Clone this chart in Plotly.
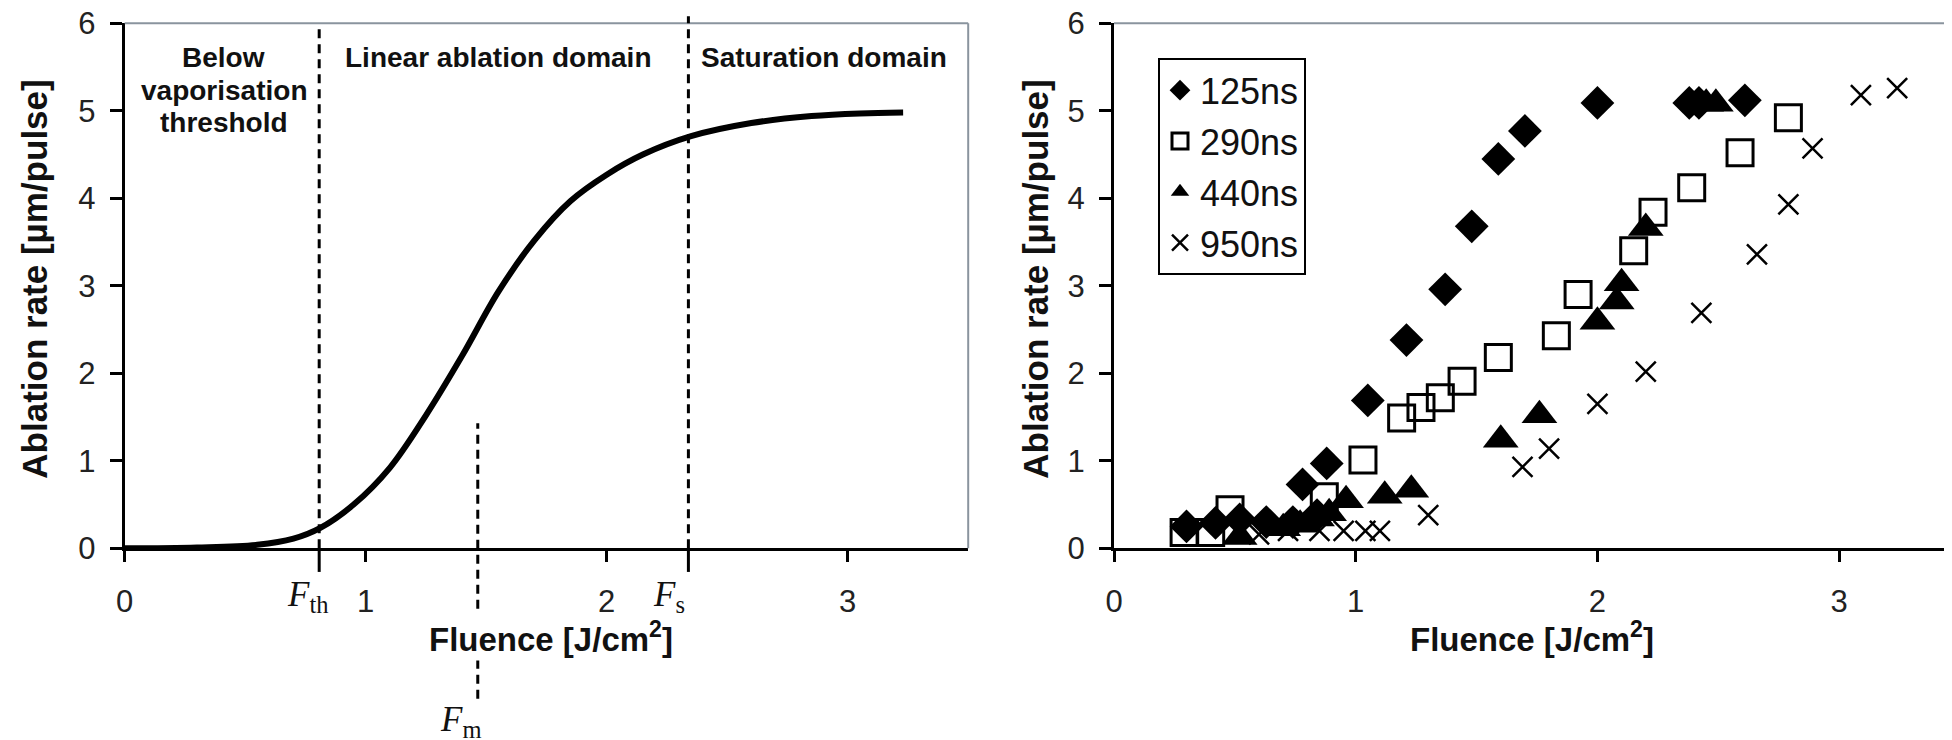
import plotly.graph_objects as go

W, H = 1952, 740
OFF = 8  # page offset of the plot div (body margin)

# ---------------- Left panel: model ablation curve ----------------
curve_x = [0.0, 0.30, 0.55, 0.70, 0.81, 0.95, 1.10, 1.25, 1.40, 1.55, 1.70, 1.85,
           2.00, 2.15, 2.35, 2.60, 2.85, 3.05, 3.23]
curve_y = [0.0, 0.01, 0.04, 0.11, 0.23, 0.50, 0.92, 1.52, 2.20, 2.93, 3.52, 3.97,
           4.27, 4.50, 4.71, 4.86, 4.94, 4.97, 4.98]

F_TH, F_M, F_S = 0.807, 1.465, 2.339
F_LABELS = ["<i>F</i><sub>th</sub>", "<i>F</i><sub>m</sub>", "<i>F</i><sub>s</sub>"]

region_lines_below = ["Below", "vaporisation", "threshold"]
region_linear = "Linear ablation domain"
region_sat = "Saturation domain"

# ---------------- Right panel: measured data ----------------
series_names = ["125ns", "290ns", "440ns", "950ns"]

x_125 = [0.30, 0.42, 0.52, 0.63, 0.74, 0.84, 0.78, 0.88, 1.05, 1.21, 1.37, 1.48,
         1.59, 1.70, 2.00, 2.38, 2.42, 2.61]
y_125 = [0.25, 0.29, 0.33, 0.30, 0.30, 0.38, 0.73, 0.97, 1.69, 2.38, 2.96, 3.68,
         4.45, 4.77, 5.09, 5.09, 5.09, 5.12]

x_290 = [0.29, 0.40, 0.48, 0.87, 1.03, 1.19, 1.27, 1.35, 1.44, 1.59, 1.83, 1.92,
         2.15, 2.23, 2.39, 2.59, 2.79]
y_290 = [0.18, 0.18, 0.44, 0.59, 1.01, 1.49, 1.61, 1.72, 1.91, 2.18, 2.43, 2.90,
         3.40, 3.84, 4.12, 4.52, 4.92]

x_440 = [0.52, 0.70, 0.77, 0.84, 0.89, 0.96, 1.12, 1.23, 1.60, 1.76, 2.00, 2.08,
         2.10, 2.20, 2.45, 2.49]
y_440 = [0.13, 0.23, 0.27, 0.34, 0.40, 0.55, 0.60, 0.67, 1.24, 1.52, 2.59, 2.82,
         3.03, 3.66, 5.08, 5.08]

x_950 = [0.60, 0.72, 0.85, 0.95, 1.04, 1.10, 1.30, 1.69, 1.80, 2.00, 2.20, 2.43,
         2.66, 2.79, 2.89, 3.09, 3.24]
y_950 = [0.16, 0.20, 0.20, 0.20, 0.20, 0.20, 0.38, 0.93, 1.14, 1.65, 2.02, 2.69,
         3.36, 3.93, 4.57, 5.18, 5.26]

x_ticks = [0, 1, 2, 3]
y_ticks = [0, 1, 2, 3, 4, 5, 6]
Y_MAX = 6
X_MAX_LEFT = 3.5
X_MAX_RIGHT = 3.50

x_title = "<b>Fluence [J/cm<sup>2</sup>]</b>"
y_title = "<b>Ablation rate [µm/pulse]</b>"

# ---------------- figure ----------------
FONT = "Liberation Sans, Arial, sans-serif"
SERIF = "Liberation Serif, Times New Roman, serif"
INK = "#111111"
BORDER = "#8a949e"


def yd(v):
    """value on the 0..Y_MAX axis -> fraction of the y domain"""
    return v / Y_MAX


def px_x(p):
    return (p - OFF) / W


def px_y(p):
    return 1 - (p - OFF) / H


fig = go.Figure()

fig.add_trace(go.Scatter(x=curve_x, y=curve_y, mode="lines", xaxis="x", yaxis="y",
                         line=dict(color="black", width=6, shape="spline", smoothing=1.0),
                         showlegend=False, hoverinfo="skip"))

marker_specs = [
    dict(symbol="diamond", size=26, color="black", line=dict(width=0)),
    dict(symbol="square-open", size=26, color="black", line=dict(width=3, color="black")),
    dict(symbol="triangle-up", size=31, color="black", line=dict(width=0)),
    dict(symbol="x-thin", size=20, color="black", line=dict(width=2.5, color="black")),
]
for name, xs, ys, mk in zip(series_names, [x_125, x_290, x_440, x_950],
                            [y_125, y_290, y_440, y_950], marker_specs):
    fig.add_trace(go.Scatter(x=xs, y=ys, mode="markers", name=name, xaxis="x2", yaxis="y2",
                             marker=mk, legendgroup=name))

axis_common = dict(
    showline=True, linecolor="black", linewidth=3, showgrid=False, zeroline=False,
    ticks="outside", tickcolor="black", tickwidth=2.5, automargin=False,
    ticklabeloverflow="allow",
    tickfont=dict(family=FONT, size=31, color="#222222"),
)
ydom = [px_y(548.3), px_y(23.3)]
fig.update_layout(
    xaxis=dict(domain=[px_x(124.7), px_x(968.2)], range=[0, X_MAX_LEFT], tickvals=x_ticks,
               ticklen=11, ticklabelstandoff=12, anchor="y", **axis_common),
    yaxis=dict(domain=ydom, range=[0, Y_MAX], tickvals=y_ticks, ticklen=12,
               ticklabelstandoff=8, anchor="x", **axis_common),
    xaxis2=dict(domain=[px_x(1114), 1.0], range=[0, X_MAX_RIGHT], tickvals=x_ticks,
                ticklen=11, ticklabelstandoff=12, anchor="y2", **axis_common),
    yaxis2=dict(domain=ydom, range=[0, Y_MAX], tickvals=y_ticks, ticklen=12,
                ticklabelstandoff=8, anchor="x2", **axis_common),
)

shapes = []
# plot-area borders (top / right)
shapes.append(dict(type="line", xref="x domain", yref="y domain", x0=0, x1=1, y0=1, y1=1,
                   line=dict(color=BORDER, width=2)))
shapes.append(dict(type="line", xref="x domain", yref="y domain", x0=1, x1=1, y0=0, y1=1,
                   line=dict(color=BORDER, width=2)))
shapes.append(dict(type="line", xref="x2 domain", yref="y2 domain", x0=0, x1=1, y0=1, y1=1,
                   line=dict(color=BORDER, width=2)))

dash = dict(color="black", width=3, dash="9px,6px")
# F_th and F_s markers
for fx, top in [(F_TH, 6.0), (F_S, 6.08)]:
    shapes.append(dict(type="line", xref="x", yref="y domain", x0=fx, x1=fx,
                       y0=0, y1=yd(top), line=dash))
    shapes.append(dict(type="line", xref="x", yref="y domain", x0=fx, x1=fx,
                       y0=yd(-0.27), y1=0, line=dict(color="black", width=3)))
# F_m marker
shapes.append(dict(type="line", xref="x", yref="y domain", x0=F_M, x1=F_M,
                   y0=yd(-1.72), y1=yd(1.43), line=dash))

annotations = []
# region labels
for txt, yv in zip(region_lines_below, [5.61, 5.235, 4.865]):
    annotations.append(dict(text=f"<b>{txt}</b>", x=0.41, y=yv, xref="x", yref="y",
                            xanchor="center", yanchor="middle",
                            showarrow=False, font=dict(family=FONT, size=28, color=INK)))
annotations.append(dict(text=f"<b>{region_linear}</b>", x=1.55, y=5.61, xref="x", yref="y",
                        xanchor="center", yanchor="middle",
                        showarrow=False, font=dict(family=FONT, size=28, color=INK)))
annotations.append(dict(text=f"<b>{region_sat}</b>", x=2.90, y=5.61, xref="x", yref="y",
                        xanchor="center", yanchor="middle",
                        showarrow=False, font=dict(family=FONT, size=28, color=INK)))

# F labels
for lab, xv, yv, xa in zip(F_LABELS, [F_TH + 0.045, F_M - 0.07, F_S - 0.007],
                           [-0.55, -1.98, -0.55], ["right", "center", "right"]):
    annotations.append(dict(text=lab, x=xv, y=yd(yv), xref="x", yref="y domain", xanchor=xa,
                            yanchor="middle", showarrow=False,
                            font=dict(family=SERIF, size=35, color=INK)))

# axis titles
annotations.append(dict(text=x_title, x=1.77, y=yd(-1.01), xref="x", yref="y domain",
                        xanchor="center", yanchor="middle",
                        showarrow=False, bgcolor="white", borderpad=2,
                        font=dict(family=FONT, size=33, color=INK)))
annotations.append(dict(text=x_title, x=1.73, y=yd(-1.01), xref="x2", yref="y2 domain",
                        xanchor="center", yanchor="middle",
                        showarrow=False, font=dict(family=FONT, size=33, color=INK)))
annotations.append(dict(text=y_title, x=px_x(35), y=3.07, xref="paper", yref="y",
                        xanchor="center", yanchor="middle", textangle=-90,
                        showarrow=False, font=dict(family=FONT, size=35, color=INK)))
annotations.append(dict(text=y_title, x=px_x(1036), y=3.07, xref="paper", yref="y2",
                        xanchor="center", yanchor="middle", textangle=-90,
                        showarrow=False, font=dict(family=FONT, size=35, color=INK)))

fig.update_layout(
    width=W, height=H, margin=dict(l=0, r=0, t=0, b=0, autoexpand=False),
    template="none",
    paper_bgcolor="white", plot_bgcolor="white",
    font=dict(family=FONT, color=INK),
    shapes=shapes, annotations=annotations,
    legend=dict(x=px_x(1158), y=px_y(58.3), xanchor="left", yanchor="top",
                bordercolor="black", borderwidth=2, bgcolor="white",
                font=dict(family=FONT, size=36, color=INK),
                traceorder="grouped", tracegroupgap=1, itemsizing="trace"),
    showlegend=True,
)

fig.write_html("out.html")
